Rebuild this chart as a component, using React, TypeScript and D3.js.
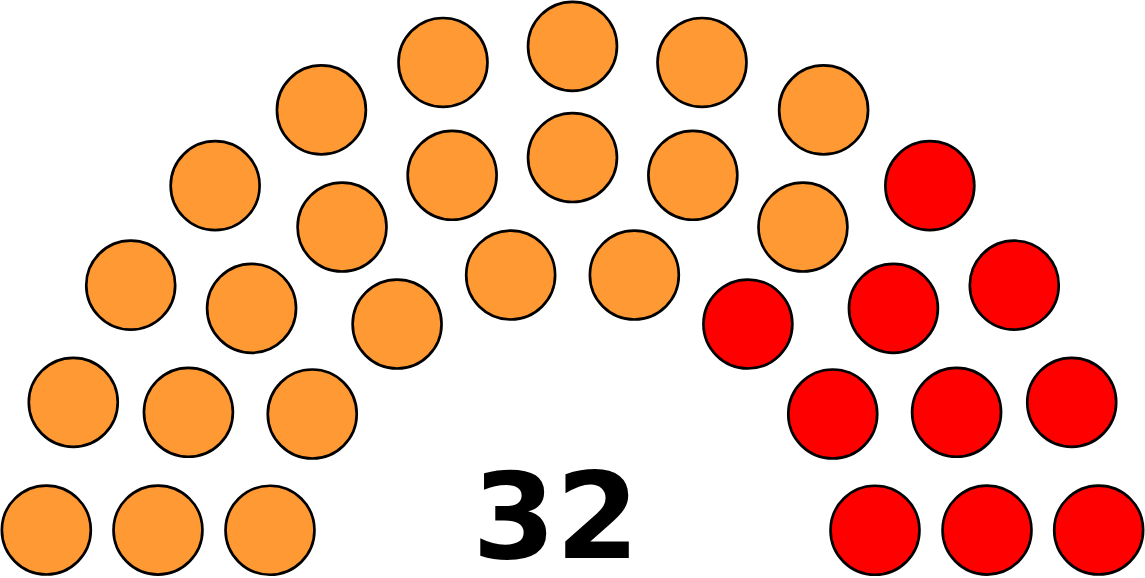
import React, { useRef, useEffect } from "react";
import * as d3 from "d3";

// parties in seating order (left to right)
const partyNames = ["Party A", "Party B"];
const partySeats = [22, 10];
const partyColors = ["#FF9933", "#FF0000"];

// seats per row, inner row first
const rowSeats = [8, 11, 13];
const totalLabel = "32";

interface Seat {
    angle: number;
    radius: number;
    color: string;
    party: string;
}

const ParliamentChart: React.FC = () => {
    const svgRef = useRef<SVGSVGElement | null>(null);

    useEffect(() => {
        const width = 1145;
        const height = 578;
        const svg = d3.select(svgRef.current).attr("width", width).attr("height", height);
        svg.selectAll("*").remove();

        const rows = rowSeats.length;
        const dotRadius = 0.4 / rows;

        // pixels per diagram unit, and where the arc centre sits
        const k = 333.5;
        const xScale = d3.scaleLinear().domain([-1, 1]).range([572.5 - k, 572.5 + k]);
        const yScale = d3.scaleLinear().domain([0, 1]).range([574.4, 574.4 - k]);

        // build seat positions row by row
        let seats: Seat[] = [];
        rowSeats.forEach((n, idx) => {
            const i = idx + 1;
            const R = (3 * rows + 4 * i - 2) / (4 * rows);
            const off = Math.sin(dotRadius / R);
            for (let j = 0; j < n; j++) {
                const angle = n === 1 ? Math.PI / 2 : (j * (Math.PI - 2 * off)) / (n - 1) + off;
                seats.push({ angle, radius: R, color: "", party: "" });
            }
        });

        // leftmost first
        seats.sort((a, b) => b.angle - a.angle || b.radius - a.radius);
        let cursor = 0;
        partySeats.forEach((count, p) => {
            for (let s = 0; s < count; s++) {
                seats[cursor].color = partyColors[p];
                seats[cursor].party = partyNames[p];
                cursor++;
            }
        });

        svg.append("g")
            .selectAll("circle")
            .data(seats)
            .enter()
            .append("circle")
            .attr("cx", (d) => xScale(d.radius * Math.cos(d.angle)))
            .attr("cy", (d) => yScale(d.radius * Math.sin(d.angle)))
            .attr("r", xScale(dotRadius) - xScale(0))
            .attr("fill", (d) => d.color)
            .attr("stroke", "#000")
            .attr("stroke-width", 2.67);

        svg.append("text")
            .attr("x", xScale(-0.05))
            .attr("y", yScale(0.05))
            .attr("text-anchor", "middle")
            .style("font-family", "'DejaVu Sans', sans-serif")
            .style("font-weight", "bold")
            .style("font-size", "120px")
            .text(totalLabel);
    }, []);

    return <svg ref={svgRef} style={{ position: "absolute", left: 0, top: 0 }} />;
};

export default function App() {
    return <ParliamentChart />;
}
